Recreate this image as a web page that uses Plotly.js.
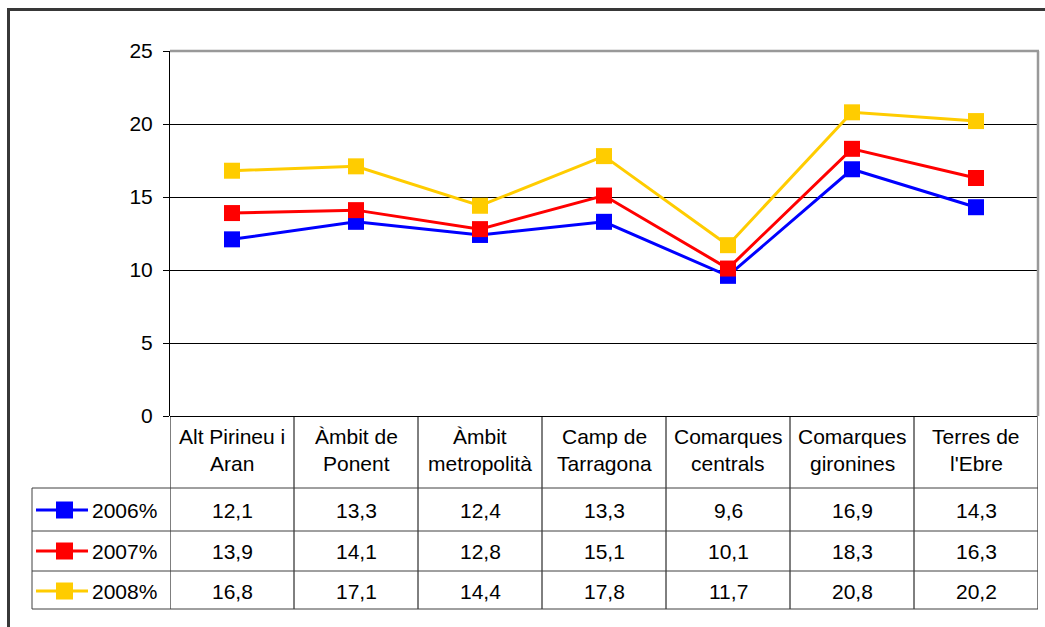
<!DOCTYPE html>
<html>
<head>
<meta charset="utf-8">
<script src="https://cdn.plot.ly/plotly-3.0.1.min.js"></script>
<style>html,body{margin:0;padding:0;background:#fff;}#chart{width:1045px;height:627px;}</style>
</head>
<body>
<div id="chart"></div>
<script>
var categories = ["Alt Pirineu i<br>Aran", "Àmbit de<br>Ponent", "Àmbit<br>metropolità", "Camp de<br>Tarragona", "Comarques<br>centrals", "Comarques<br>gironines", "Terres de<br>l'Ebre"];
var seriesNames = ["2006%", "2007%", "2008%"];
var values2006 = [12.1, 13.3, 12.4, 13.3, 9.6, 16.9, 14.3];
var values2007 = [13.9, 14.1, 12.8, 15.1, 10.1, 18.3, 16.3];
var values2008 = [16.8, 17.1, 14.4, 17.8, 11.7, 20.8, 20.2];
var seriesValues = [values2006, values2007, values2008];
var colors = ["#0000FF", "#FF0000", "#FFCC00"];
var yTicks = [0, 5, 10, 15, 20, 25];

var W = 1045, H = 627;
var L = 170, R = 1038, T = 51, B = 416;
var FONT = "Liberation Sans, Arial, sans-serif";
var FS = 21;
function px(x) { return (x - L) / (R - L); }
function py(y) { return (B - y) / (B - T); }

var xIdx = categories.map(function (c, i) { return i; });

var traces = seriesValues.map(function (vals, s) {
  return {
    type: "scatter", mode: "lines+markers", name: seriesNames[s],
    x: xIdx, y: vals,
    line: { color: colors[s], width: 3 },
    marker: { symbol: "square", size: 16, color: colors[s] },
    hoverinfo: "skip", showlegend: false
  };
});

var shapes = [];
var annotations = [];
var rowLines = [488, 531, 571, 609];
var rowCenters = [510, 551, 591];
var legLeft = 32;

// outer frame
shapes.push({ type: "rect", xref: "paper", yref: "paper", x0: px(8.5), x1: px(1070), y0: py(9.5), y1: py(660),
  line: { color: "#383838", width: 3 }, fillcolor: "rgba(0,0,0,0)", layer: "below" });
// plot border top and right (gray)
shapes.push({ type: "line", xref: "paper", yref: "paper", x0: 0, x1: px(R + 1), y0: 1, y1: 1, line: { color: "#999999", width: 2.5 } });
shapes.push({ type: "line", xref: "paper", yref: "paper", x0: 1, x1: 1, y0: 1, y1: 0, line: { color: "#999999", width: 2.5 } });

// table vertical lines at category boundaries
for (var i = 0; i <= categories.length; i++) {
  shapes.push({ type: "line", xref: "x", yref: "paper", x0: i - 0.5, x1: i - 0.5, y0: 0, y1: py(rowLines[3]),
    line: { color: i === categories.length ? "#808080" : "#000000", width: i === categories.length ? 2 : 1 } });
}
// legend column left border
shapes.push({ type: "line", xref: "paper", yref: "paper", x0: px(legLeft), x1: px(legLeft), y0: py(rowLines[0]), y1: py(rowLines[3]),
  line: { color: "#404040", width: 1 } });
// horizontal row lines
rowLines.forEach(function (y) {
  shapes.push({ type: "line", xref: "paper", yref: "paper", x0: px(legLeft), x1: 1, y0: py(y), y1: py(y),
    line: { color: "#404040", width: 1 } });
});

// header labels
categories.forEach(function (c, i) {
  var lines = c.split("<br>");
  lines.forEach(function (ln, k) {
    annotations.push({ xref: "x", yref: "paper", x: i, y: py(436 + k * 28), text: ln, showarrow: false,
      xanchor: "center", yanchor: "middle", font: { family: FONT, size: FS, color: "#000" } });
  });
});

// table values and legend keys
seriesValues.forEach(function (vals, s) {
  var yc = rowCenters[s];
  vals.forEach(function (v, i) {
    annotations.push({ xref: "x", yref: "paper", x: i, y: py(yc), text: v.toFixed(1).replace(".", ","), showarrow: false,
      xanchor: "center", yanchor: "middle", font: { family: FONT, size: FS, color: "#000" } });
  });
  shapes.push({ type: "line", xref: "paper", yref: "paper", x0: px(36), x1: px(88), y0: py(yc), y1: py(yc),
    line: { color: colors[s], width: 3 } });
  shapes.push({ type: "rect", xref: "paper", yref: "paper", x0: px(56), x1: px(73), y0: py(yc - 8.5), y1: py(yc + 8.5),
    line: { width: 0 }, fillcolor: colors[s] });
  annotations.push({ xref: "paper", yref: "paper", x: px(90), y: py(yc), text: seriesNames[s], showarrow: false,
    xanchor: "left", yanchor: "middle", font: { family: FONT, size: FS, color: "#000" } });
});

var layout = {
  width: W, height: H,
  margin: { l: L, r: W - R, t: T, b: H - B, pad: 0 },
  paper_bgcolor: "#ffffff", plot_bgcolor: "#ffffff",
  showlegend: false,
  xaxis: { type: "linear", range: [-0.5, categories.length - 0.5], showticklabels: false, showgrid: false,
    zeroline: false, showline: false, ticks: "", fixedrange: true },
  yaxis: { range: [0, 25], tickvals: yTicks, ticktext: yTicks.map(String), ticks: "outside", ticklen: 6,
    tickcolor: "#000", tickwidth: 1, showline: true, linecolor: "#000", linewidth: 1,
    showgrid: true, gridcolor: "#000", gridwidth: 1, zeroline: true, zerolinecolor: "#000", zerolinewidth: 1,
    ticklabelstandoff: 6,
    tickfont: { family: FONT, size: FS, color: "#000" }, fixedrange: true },
  shapes: shapes,
  annotations: annotations
};

Plotly.newPlot("chart", traces, layout, { displayModeBar: false, staticPlot: true });
</script>
</body>
</html>
